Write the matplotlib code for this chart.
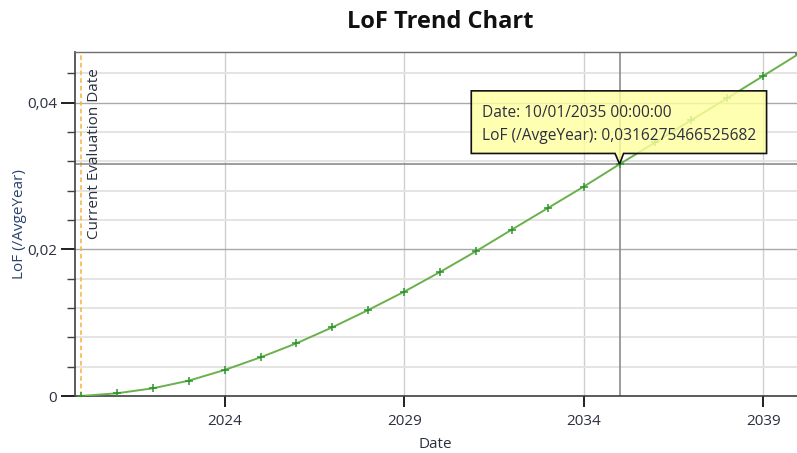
import datetime as dt
import matplotlib
matplotlib.use("Agg")
import matplotlib.pyplot as plt
import matplotlib.dates as mdates
import matplotlib.transforms as mtransforms
from matplotlib.patches import Polygon
from matplotlib.ticker import MultipleLocator, FuncFormatter

# Annual LoF values (one per year, 10 January)
dates = [dt.datetime(y, 1, 10) for y in range(2020, 2041)]
lof = [0.0, 0.00037, 0.00105, 0.00209, 0.00355, 0.00528, 0.00719, 0.00937,
       0.01173, 0.01423, 0.01692, 0.01974, 0.02270, 0.02563, 0.02856,
       0.0316275466525682, 0.03461, 0.03765, 0.04063, 0.04366, 0.0467]
eval_date = dt.datetime(2020, 1, 12)
tick_years = [2024, 2029, 2034, 2039]
hover_index = 15
hover_date_text = "10/01/2035 00:00:00"
hover_value_text = "0,0316275466525682"

plt.rcParams["font.family"] = ["Open Sans", "DejaVu Sans"]
TXT = "#2b2f3f"

fig = plt.figure(figsize=(7.97, 4.53), dpi=100)
ax = fig.add_axes([75 / 797, 57 / 453, 722 / 797, 344.3 / 453])

x_left = dt.datetime(2019, 11, 10)
x_right = dt.datetime(2039, 12, 20)
ax.set_xlim(x_left, x_right)
ax.set_ylim(0, 0.04697)

# grid
ax.yaxis.set_major_locator(MultipleLocator(0.02))
ax.yaxis.set_minor_locator(MultipleLocator(0.004))
ax.set_xticks([dt.datetime(y, 1, 10) for y in tick_years])
ax.xaxis.set_major_formatter(mdates.DateFormatter("%Y"))
ax.yaxis.set_major_formatter(FuncFormatter(
    lambda v, p: "0" if abs(v) < 1e-12 else f"{v:.2f}".replace(".", ",")))
ax.grid(True, which="major", axis="y", color="#a9a9a9", lw=1.0)
ax.grid(True, which="minor", axis="y", color="#e4e4e4", lw=1.4)
ax.grid(True, which="major", axis="x", color="#cfcfcf", lw=1.0)
ax.set_axisbelow(True)

for side in ("left", "bottom"):
    ax.spines[side].set_color("#404040")
    ax.spines[side].set_linewidth(1.2)
ax.spines["top"].set_color("#6e6e6e")
ax.spines["top"].set_linewidth(1.0)
ax.spines["right"].set_visible(False)

ax.tick_params(axis="x", which="major", length=8, width=1.4, color="#202020",
               labelsize=11, labelcolor=TXT, pad=5)
ax.tick_params(axis="y", which="major", length=10, width=1.4, color="#202020",
               labelsize=11, labelcolor=TXT, pad=3)
ax.tick_params(axis="y", which="minor", length=6, width=1.0, color="#404040")

# current evaluation date marker
ax.axvline(eval_date, color="#f7b23b", lw=1.1, ls=(0, (3, 2)), zorder=2)
ax.text(eval_date + dt.timedelta(days=55), 0.04475, "Current Evaluation Date",
        rotation=90, ha="left", va="top", fontsize=11, color=TXT)

# crosshair at hovered point
hx, hy = dates[hover_index], lof[hover_index]
ax.axvline(hx, color="#8c8c8c", lw=1.2, zorder=2)
ax.axhline(hy, color="#8c8c8c", lw=1.2, zorder=2)

# series
ax.plot(dates, lof, color="#6ab04c", lw=1.4, marker="+", markersize=6,
        markeredgewidth=1.1, markeredgecolor="#2a962a", zorder=3, clip_on=True)

ax.set_xlabel("")
fig.text(435 / 797, 1 - 445 / 453, "Date", ha="center", va="center",
         fontsize=11, color=TXT)
fig.text(20 / 797, 1 - 224 / 453, "LoF (/AvgeYear)", ha="center", va="center",
         rotation=90, fontsize=11, color="#2a4370")
fig.text(440 / 797, 1 - 22 / 453, "LoF Trend Chart", ha="center", va="center",
         fontsize=17, fontweight="bold", color="#111111")

# hover tooltip (offsets in pixels relative to the hovered point)
anchor = mtransforms.ScaledTranslation(mdates.date2num(hx), hy, ax.transData)
px = mtransforms.Affine2D().scale(1 / fig.dpi) + fig.dpi_scale_trans + anchor
verts = [(-148.3, 10.7), (-4.5, 10.7), (0, 0), (4.0, 10.7), (147, 10.7),
         (147, 73.3), (-148.3, 73.3)]
ax.add_patch(Polygon(verts, closed=True, transform=px, facecolor="#ffffa0",
                     alpha=0.82, edgecolor="none", zorder=5, clip_on=False))
ax.add_patch(Polygon(verts, closed=True, transform=px, facecolor="none",
                     edgecolor="#111111", lw=1.2, zorder=6, clip_on=False))
ax.text(-137.3, 51.3, f"Date: {hover_date_text}", transform=px, ha="left",
        va="center", fontsize=11.2, color=TXT, zorder=7)
ax.text(-137.3, 28.0, f"LoF (/AvgeYear): {hover_value_text}", transform=px,
        ha="left", va="center", fontsize=11.2, color=TXT, zorder=7)

fig.savefig("out.png", dpi=100)
